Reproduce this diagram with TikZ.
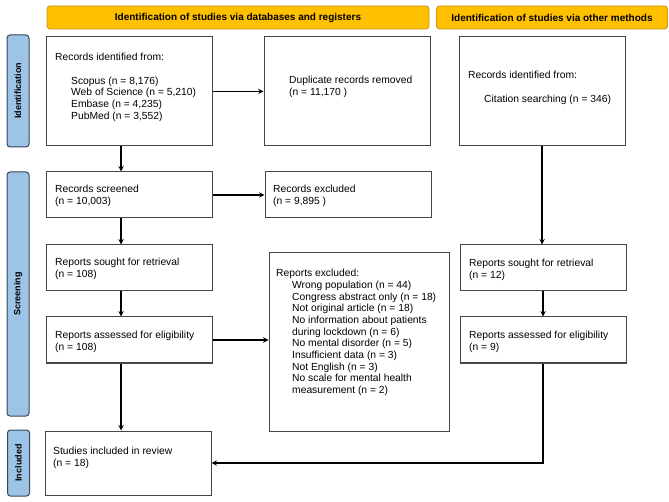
\documentclass[tikz,border=0pt]{standalone}
\usepackage{fontspec}
\setmainfont{Liberation Sans}
\usetikzlibrary{arrows.meta,positioning}
\definecolor{prgold}{RGB}{255,192,0}
\definecolor{prgoldline}{RGB}{200,150,20}
\definecolor{prblue}{RGB}{157,195,230}
\definecolor{prblueline}{RGB}{55,70,90}
\definecolor{prbox}{RGB}{70,70,70}

\begin{document}
\begin{tikzpicture}[x=1pt,y=-1pt,
  every node/.style={font=\fontsize{10.3}{11.7}\selectfont},
  headbox/.style={draw=prgoldline,fill=prgold,rounded corners=3pt,line width=0.8pt,minimum height=23pt,font=\fontsize{10}{12}\selectfont\bfseries},
  sidebox/.style={draw=prblueline,fill=prblue,rounded corners=3pt,line width=1pt,minimum width=22pt,font=\fontsize{9}{10}\selectfont\bfseries},
  box/.style={draw=prbox,line width=1pt,minimum width=166pt,minimum height=46pt},
  txt/.style={anchor=north west,inner sep=0pt,align=left},
  arr/.style={->,>=stealth,line width=1.4pt}
]
\useasboundingbox (0,0) rectangle (669,502);
% headers
\node[headbox,minimum width=382pt] (hdb) at (238,17.5) {Identification of studies via databases and registers};
\node[headbox,minimum width=231pt] (hot) at (552,17.5) {Identification of studies via other methods};
% side labels
\node[sidebox,minimum height=112pt] (sid) at (18,91) {\rotatebox{90}{Identification}};
\node[sidebox,minimum height=244pt] (ssc) at (18,294) {\rotatebox{90}{Screening}};
\node[sidebox,minimum height=66pt] (sin) at (18.5,463) {\rotatebox{90}{Included}};
% databases and registers
\node[box,minimum height=109pt] (recA) at (129,91.5) {};
\node[txt] (trecA) at (55,53.2) {Records identified from:\\[11.7pt]
  \hspace*{16pt}Scopus (n = 8,176)\\
  \hspace*{16pt}Web of Science (n = 5,210)\\
  \hspace*{16pt}Embase (n = 4,235)\\
  \hspace*{16pt}PubMed (n = 3,552)};
\node[box,minimum height=109pt] (dup) at (347,91.5) {};
\node[txt] (tdup) at (289,76.2) {Duplicate records removed\\(n = 11,170 )};
\node[box] (scr) at (129,195) {};
\node[txt] (tscr) at (55,185.2) {Records screened\\(n = 10,003)};
\node[box] (exc) at (348,195) {};
\node[txt] (texc) at (273,185.2) {Records excluded\\(n = 9,895 )};
\node[box] (sgt) at (129,268) {};
\node[txt] (tsgt) at (55,258.2) {Reports sought for retrieval\\(n = 108)};
\node[box] (ass) at (129,340) {};
\node[txt] (tass) at (55,331.2) {Reports assessed for eligibility\\(n = 108)};
\node[box,minimum width=180pt,minimum height=178pt] (rex) at (359,342) {};
\node[txt] (trex) at (276,269) {Reports excluded:\\
  \hspace*{16pt}Wrong population (n = 44)\\
  \hspace*{16pt}Congress abstract only (n = 18)\\
  \hspace*{16pt}Not original article (n = 18)\\
  \hspace*{16pt}No information about patients\\
  \hspace*{16pt}during lockdown (n = 6)\\
  \hspace*{16pt}No mental disorder (n = 5)\\
  \hspace*{16pt}Insufficient data (n = 3)\\
  \hspace*{16pt}Not English (n = 3)\\
  \hspace*{16pt}No scale for mental health\\
  \hspace*{16pt}measurement (n = 2)};
\node[box,minimum height=64pt] (stu) at (128,463) {};
\node[txt] (tstu) at (53,447.2) {Studies included in review\\(n = 18)};
% other methods
\node[box,minimum height=109pt] (recO) at (542,91.5) {};
\node[txt] (trecO) at (468,71.2) {Records identified from:\\[11.7pt]
  \hspace*{16pt}Citation searching (n = 346)};
\node[box] (sgtO) at (543,268) {};
\node[txt] (tsgtO) at (469,259.2) {Reports sought for retrieval\\(n = 12)};
\node[box] (assO) at (543,340) {};
\node[txt] (tassO) at (469,331.2) {Reports assessed for eligibility\\(n = 9)};
% connectors
\draw[arr] (recA.east) -- (dup.west);
\draw[arr] ([xshift=-8pt]recA.south) -- ([xshift=-8pt]scr.north);
\draw[arr] (scr.east) -- (exc.west);
\draw[arr] ([xshift=-8pt]scr.south) -- ([xshift=-8pt]sgt.north);
\draw[arr] ([xshift=-8pt]sgt.south) -- ([xshift=-8pt]ass.north);
\draw[arr] (ass.east) -- (ass.east -| rex.west);
\draw[arr] ([xshift=-8pt]ass.south) -- ([xshift=-7pt]stu.north);
\draw[arr] (recO.south) -- (recO.south |- sgtO.north);
\draw[arr] (sgtO.south) -- (assO.north);
\draw[arr] (assO.south) |- (stu.east);
\end{tikzpicture}
\end{document}
